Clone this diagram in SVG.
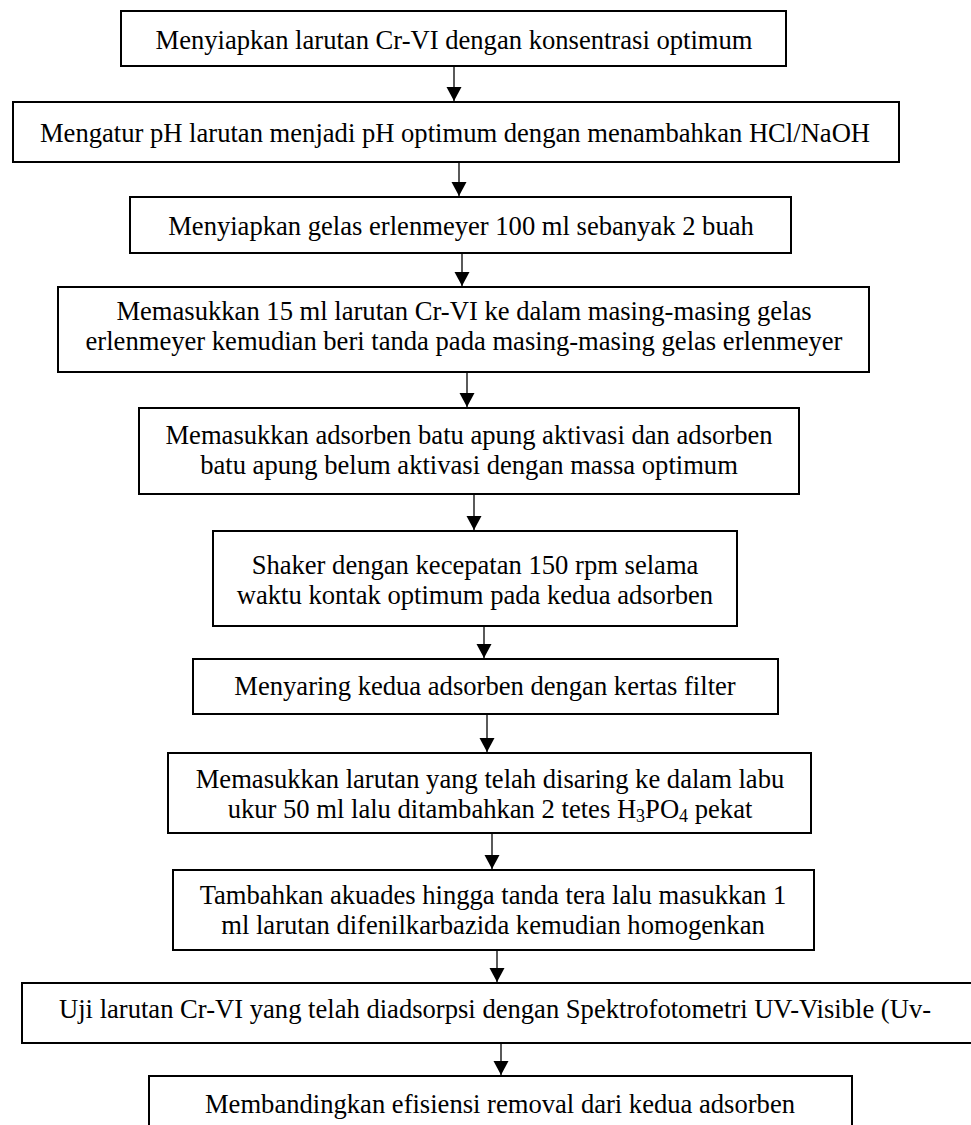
<svg xmlns="http://www.w3.org/2000/svg" width="971" height="1125" viewBox="0 0 971 1125">
<style>
.box{fill:#fff;stroke:#000;stroke-width:2}
.t{font-family:"Liberation Serif","Times New Roman",serif;font-size:26.6px;fill:#000;text-anchor:middle}
.c{stroke:#000;stroke-width:1.3;fill:none}
</style>
<defs>
<marker id="ah" markerUnits="userSpaceOnUse" markerWidth="16" markerHeight="16" viewBox="0 0 16 16" refX="15" refY="8" orient="auto">
<path d="M1,0.5 L15,8 L1,15.5 Z" fill="#000"/>
</marker>
</defs>
<rect width="971" height="1125" fill="#fff"/>
<g id="n1"><rect class="box" x="121" y="11" width="665" height="55"/><text class="t" x="454" y="49">Menyiapkan larutan Cr-VI dengan konsentrasi optimum</text></g>
<g id="n2"><rect class="box" x="13" y="102" width="886" height="60"/><text class="t" x="455" y="142">Mengatur pH larutan menjadi pH optimum dengan menambahkan HCl/NaOH</text></g>
<g id="n3"><rect class="box" x="130" y="197" width="661" height="56"/><text class="t" x="461" y="235">Menyiapkan gelas erlenmeyer 100 ml sebanyak 2 buah</text></g>
<g id="n4"><rect class="box" x="58" y="287" width="811" height="85"/><text class="t" x="464" y="320">Memasukkan 15 ml larutan Cr-VI ke dalam masing-masing gelas</text><text class="t" x="464" y="350">erlenmeyer kemudian beri tanda pada masing-masing gelas erlenmeyer</text></g>
<g id="n5"><rect class="box" x="139" y="408" width="660" height="86"/><text class="t" x="469" y="444">Memasukkan adsorben batu apung aktivasi dan adsorben</text><text class="t" x="469" y="474">batu apung belum aktivasi dengan massa optimum</text></g>
<g id="n6"><rect class="box" x="213" y="531" width="524" height="95"/><text class="t" x="475" y="574">Shaker dengan kecepatan 150 rpm selama</text><text class="t" x="475" y="604">waktu kontak optimum pada kedua adsorben</text></g>
<g id="n7"><rect class="box" x="193" y="659" width="585" height="55"/><text class="t" x="485" y="695">Menyaring kedua adsorben dengan kertas filter</text></g>
<g id="n8"><rect class="box" x="168" y="753" width="643" height="80"/><text class="t" x="490" y="788">Memasukkan larutan yang telah disaring ke dalam labu</text><text class="t" x="490" y="818">ukur 50 ml lalu ditambahkan 2 tetes H<tspan font-size="18" dy="4">3</tspan><tspan dy="-4">PO</tspan><tspan font-size="18" dy="4">4</tspan><tspan dy="-4"> pekat</tspan></text></g>
<g id="n9"><rect class="box" x="173" y="870" width="641" height="80"/><text class="t" x="493" y="904">Tambahkan akuades hingga tanda tera lalu masukkan 1</text><text class="t" x="493" y="934">ml larutan difenilkarbazida kemudian homogenkan</text></g>
<g id="n10"><rect class="box" x="22" y="983" width="970" height="60"/><text class="t" x="59" y="1018" style="text-anchor:start">Uji larutan Cr-VI yang telah diadsorpsi dengan Spektrofotometri UV-Visible (Uv-</text></g>
<g id="n11"><rect class="box" x="149" y="1076" width="703" height="70"/><text class="t" x="500" y="1113">Membandingkan efisiensi removal dari kedua adsorben</text></g>
<g id="connectors">
<line class="c" x1="454" y1="66" x2="454" y2="101" marker-end="url(#ah)"/>
<line class="c" x1="459" y1="162" x2="459" y2="196" marker-end="url(#ah)"/>
<line class="c" x1="462" y1="253" x2="462" y2="286" marker-end="url(#ah)"/>
<line class="c" x1="467" y1="372" x2="467" y2="407" marker-end="url(#ah)"/>
<line class="c" x1="474" y1="494" x2="474" y2="530" marker-end="url(#ah)"/>
<line class="c" x1="484" y1="626" x2="484" y2="658" marker-end="url(#ah)"/>
<line class="c" x1="487" y1="714" x2="487" y2="752" marker-end="url(#ah)"/>
<line class="c" x1="492" y1="833" x2="492" y2="869" marker-end="url(#ah)"/>
<line class="c" x1="497" y1="950" x2="497" y2="982" marker-end="url(#ah)"/>
<line class="c" x1="501" y1="1043" x2="501" y2="1075" marker-end="url(#ah)"/>
</g>
</svg>
